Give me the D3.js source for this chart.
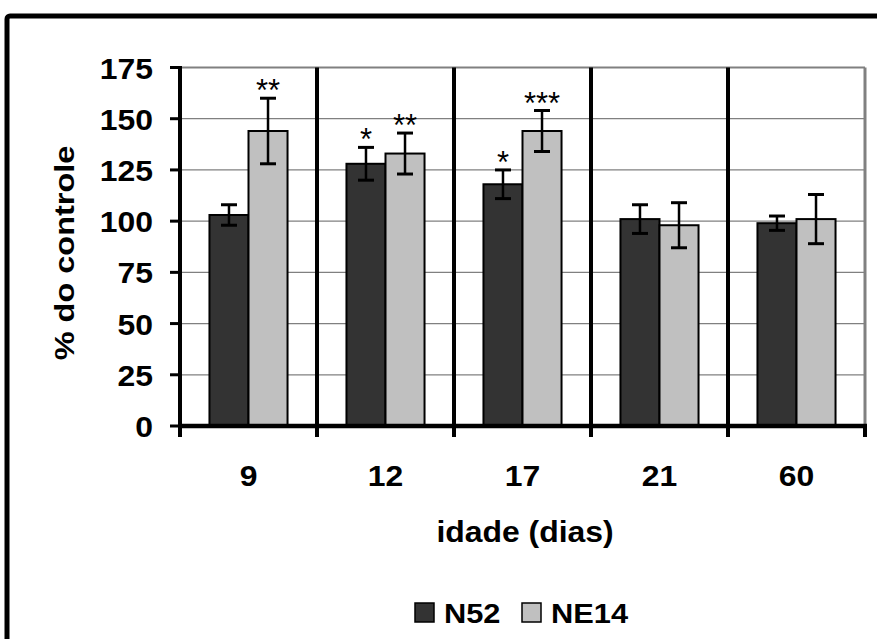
<!DOCTYPE html>
<html>
<head>
<meta charset="utf-8">
<script src="https://cdn.jsdelivr.net/npm/d3@7/dist/d3.min.js"></script>
<style>
  html, body { margin: 0; padding: 0; background: #fff; }
  svg { display: block; }
  text { font-family: Arial, "Liberation Sans", sans-serif; }
</style>
</head>
<body>
<svg id="chart" width="877" height="639"></svg>
<script>
// ---- data ----
const categories = ["9", "12", "17", "21", "60"];
const series = ["N52", "NE14"];
const n52Values = [103, 128, 118, 101, 99];
const n52Errors = [5, 8, 7, 7, 3.5];
const ne14Values = [144, 133, 144, 98, 101];
const ne14Errors = [16, 10, 10, 11, 12];
const n52Stars = ["", "*", "*", "", ""];
const ne14Stars = ["**", "**", "***", "", ""];
const yTicks = [0, 25, 50, 75, 100, 125, 150, 175];
const yLabel = "% do controle";
const xLabel = "idade (dias)";

const colors = { N52: "#333333", NE14: "#c0c0c0" };
const rows = categories.map((c, i) => ({
  cat: c,
  bars: [
    { s: "N52", v: n52Values[i], e: n52Errors[i], star: n52Stars[i] },
    { s: "NE14", v: ne14Values[i], e: ne14Errors[i], star: ne14Stars[i] }
  ]
}));

const svg = d3.select("#chart");
const L = 180, R = 865, T = 67.5, B = 426;
const SX = 1.1; // horizontal text widening

// outer frame
svg.append("rect").attr("x", 7).attr("y", 16).attr("width", 900).attr("height", 700)
  .attr("rx", 3).attr("fill", "none").attr("stroke", "#000").attr("stroke-width", 5);

const x0 = d3.scaleBand().domain(categories).range([L, R]).paddingInner(0).paddingOuter(0);
const x1 = d3.scaleBand().domain(series).range([0, x0.bandwidth()]).paddingInner(0).paddingOuter(0.755);
const y = d3.scaleLinear().domain([0, 175]).range([B, T]);

// gridlines
svg.append("g").selectAll("line").data(yTicks.filter(t => t > 0)).join("line")
  .attr("x1", L).attr("x2", R).attr("y1", d => y(d)).attr("y2", d => y(d))
  .attr("stroke", "#808080").attr("stroke-width", d => d === 175 ? 2 : 1.3);

// right border of plot area
svg.append("line").attr("x1", R).attr("x2", R).attr("y1", T).attr("y2", B)
  .attr("stroke", "#808080").attr("stroke-width", 3);

// bars
const groups = svg.append("g").selectAll("g").data(rows).join("g")
  .attr("transform", d => `translate(${x0(d.cat)},0)`);
groups.selectAll("rect").data(d => d.bars).join("rect")
  .attr("x", d => x1(d.s)).attr("width", x1.bandwidth())
  .attr("y", d => y(d.v)).attr("height", d => y(0) - y(d.v))
  .attr("fill", d => colors[d.s]).attr("stroke", "#000").attr("stroke-width", 2);

// error bars
const eb = groups.selectAll("g.err").data(d => d.bars).join("g").attr("class", "err");
eb.append("line")
  .attr("x1", d => x1(d.s) + x1.bandwidth() / 2).attr("x2", d => x1(d.s) + x1.bandwidth() / 2)
  .attr("y1", d => y(d.v + d.e)).attr("y2", d => y(d.v - d.e))
  .attr("stroke", "#000").attr("stroke-width", 2.5);
eb.selectAll("line.cap").data(d => [d, d].map((b, k) => ({ b, val: k ? b.v - b.e : b.v + b.e }))).join("line")
  .attr("class", "cap")
  .attr("x1", d => x1(d.b.s) + x1.bandwidth() / 2 - 8).attr("x2", d => x1(d.b.s) + x1.bandwidth() / 2 + 8)
  .attr("y1", d => y(d.val)).attr("y2", d => y(d.val))
  .attr("stroke", "#000").attr("stroke-width", 3);

// significance stars
groups.selectAll("text.star").data(d => d.bars.filter(b => b.star)).join("text")
  .attr("class", "star")
  .attr("x", d => x1(d.s) + x1.bandwidth() / 2)
  .attr("y", d => y(d.v + d.e) + 3)
  .attr("text-anchor", "middle").attr("font-size", 31).attr("fill", "#000")
  .text(d => d.star);

// vertical dividers between categories (drawn like x ticks extended upward)
const bounds = categories.slice(1).map(c => x0(c));
svg.append("g").selectAll("line").data(bounds).join("line")
  .attr("x1", d => d).attr("x2", d => d).attr("y1", T).attr("y2", B + 11)
  .attr("stroke", "#000").attr("stroke-width", 4);
// right edge tick
svg.append("line").attr("x1", R).attr("x2", R).attr("y1", B).attr("y2", B + 11)
  .attr("stroke", "#000").attr("stroke-width", 4);

// x axis line
svg.append("line").attr("x1", L - 2).attr("x2", R + 2).attr("y1", B).attr("y2", B)
  .attr("stroke", "#000").attr("stroke-width", 4.5);
// y axis line
svg.append("line").attr("x1", L).attr("x2", L).attr("y1", T - 1.5).attr("y2", B + 11)
  .attr("stroke", "#000").attr("stroke-width", 4);
// y ticks
svg.append("g").selectAll("line").data(yTicks).join("line")
  .attr("x1", L - 10).attr("x2", L).attr("y1", d => y(d)).attr("y2", d => y(d))
  .attr("stroke", "#000").attr("stroke-width", 3);

// y tick labels
svg.append("g").selectAll("g").data(yTicks).join("g")
  .attr("transform", d => `translate(153,${y(d) + 11}) scale(${SX},1)`)
  .append("text").attr("text-anchor", "end").attr("font-size", 29).attr("font-weight", "bold")
  .text(d => d);

// x tick labels
svg.append("g").selectAll("g").data(categories).join("g")
  .attr("transform", d => `translate(${x0(d) + x0.bandwidth() / 2},486) scale(${SX},1)`)
  .append("text").attr("text-anchor", "middle").attr("font-size", 29).attr("font-weight", "bold")
  .text(d => d);

// x axis title
svg.append("g").attr("transform", `translate(525,542) scale(${SX},1)`)
  .append("text").attr("text-anchor", "middle").attr("font-size", 29).attr("font-weight", "bold")
  .text(xLabel);

// y axis title
svg.append("g").attr("transform", `translate(74,253) rotate(-90) scale(1.16,1)`)
  .append("text").attr("text-anchor", "middle").attr("font-size", 28).attr("font-weight", "bold")
  .text(yLabel);

// legend
const legX = [415, 522];
const leg = svg.append("g").selectAll("g").data(series).join("g")
  .attr("transform", (d, i) => `translate(${legX[i]},603)`);
leg.append("rect").attr("width", 19).attr("height", 19)
  .attr("fill", d => colors[d]).attr("stroke", "#000").attr("stroke-width", 1.5);
leg.append("g").attr("transform", `translate(29,20) scale(${SX},1)`)
  .append("text").attr("font-size", 28).attr("font-weight", "bold").text(d => d);
</script>
</body>
</html>
